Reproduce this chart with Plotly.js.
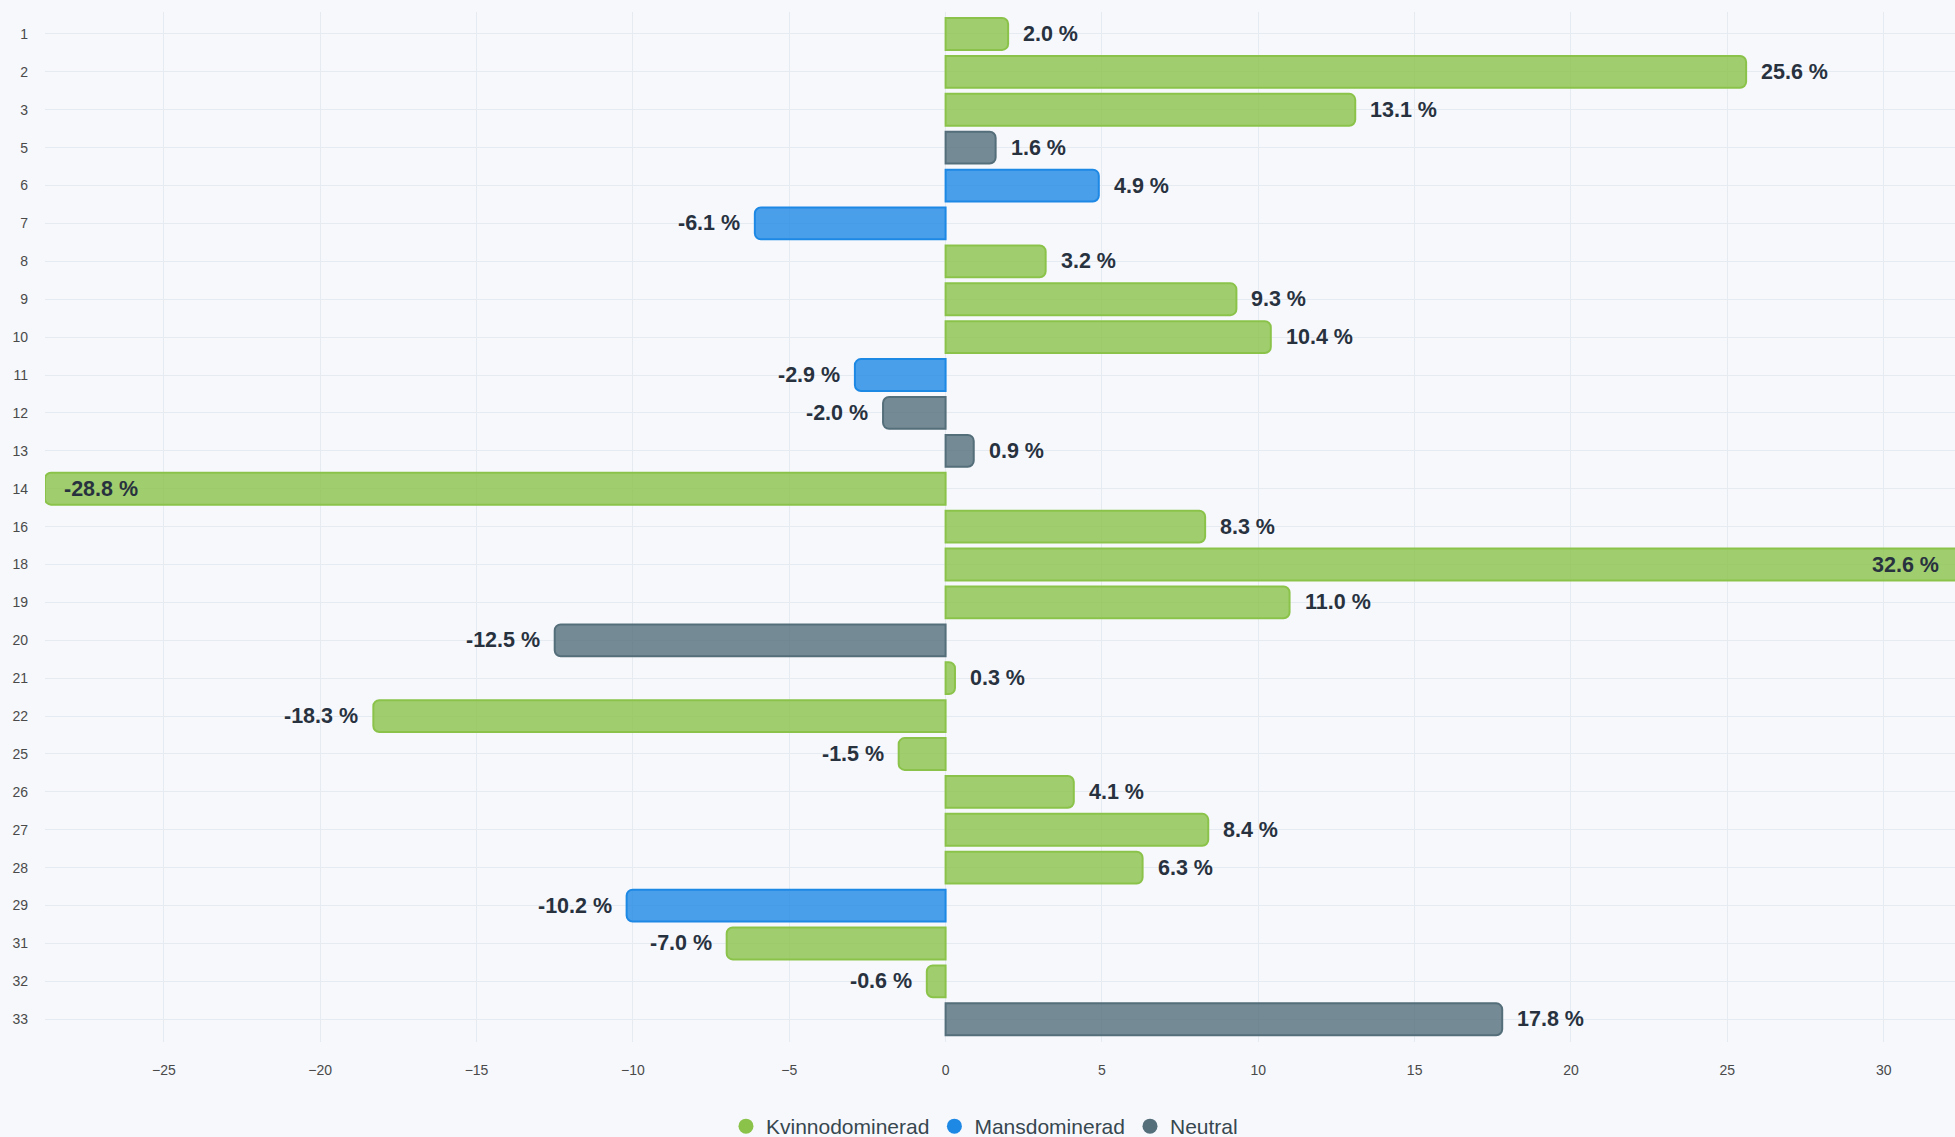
<!DOCTYPE html>
<html>
<head>
<meta charset="utf-8">
<script src="https://cdn.plot.ly/plotly-3.0.1.min.js"></script>
<style>
  html, body { margin: 0; padding: 0; overflow: hidden; background: #f6f8fc; }
  #chart { width: 1965px; height: 1147px; }
</style>
</head>
<body>
<div id="chart"></div>
<script>
// ---- data ----
const categories = ['1','2','3','5','6','7','8','9','10','11','12','13','14','16','18','19','20','21','22','25','26','27','28','29','31','32','33'];
const values = [2.0, 25.6, 13.1, 1.6, 4.9, -6.1, 3.2, 9.3, 10.4, -2.9, -2.0, 0.9, -28.8, 8.3, 32.6, 11.0, -12.5, 0.3, -18.3, -1.5, 4.1, 8.4, 6.3, -10.2, -7.0, -0.6, 17.8];
const groups = ['Kvinnodominerad','Kvinnodominerad','Kvinnodominerad','Neutral','Mansdominerad','Mansdominerad','Kvinnodominerad','Kvinnodominerad','Kvinnodominerad','Mansdominerad','Neutral','Neutral','Kvinnodominerad','Kvinnodominerad','Kvinnodominerad','Kvinnodominerad','Neutral','Kvinnodominerad','Kvinnodominerad','Kvinnodominerad','Kvinnodominerad','Kvinnodominerad','Kvinnodominerad','Mansdominerad','Kvinnodominerad','Kvinnodominerad','Neutral'];
const seriesNames = ['Kvinnodominerad', 'Mansdominerad', 'Neutral'];

// ---- styles ----
const seriesStyle = {
  'Kvinnodominerad': { line: '#8bc34a', fill: 'rgba(139,195,74,0.8)' },
  'Mansdominerad':   { line: '#1e88e5', fill: 'rgba(30,136,229,0.8)' },
  'Neutral':         { line: '#546e7a', fill: 'rgba(84,110,122,0.8)' }
};
const FONT = '"Liberation Sans", Arial, Helvetica, sans-serif';
const xMin = Math.min(...values), xMax = Math.max(...values);

const traces = [];
seriesNames.forEach(name => {
  const idx = values.map((v, i) => i).filter(i => groups[i] === name);
  traces.push({
    type: 'bar',
    orientation: 'h',
    name: name,
    legendgroup: name,
    showlegend: false,
    x: idx.map(i => values[i]),
    y: idx.map(i => categories[i]),
    width: 0.84,
    marker: {
      color: seriesStyle[name].fill,
      line: { color: seriesStyle[name].line, width: 2 },
      cornerradius: 6
    },
    hoverinfo: 'x+y'
  });
});
// legend entries (circle markers)
seriesNames.forEach(name => {
  traces.push({
    type: 'scatter',
    mode: 'markers',
    name: name,
    legendgroup: name,
    x: [null], y: [null],
    marker: { color: seriesStyle[name].line, size: 15, symbol: 'circle' },
    hoverinfo: 'skip'
  });
});

const annotations = values.map((v, i) => {
  const inside = (v === xMin || v === xMax);
  let anchor, shift;
  if (v >= 0) {
    anchor = inside ? 'right' : 'left';
    shift = inside ? -24 : 13;
  } else {
    anchor = inside ? 'left' : 'right';
    shift = inside ? 17 : -13;
  }
  return {
    // category axis: position by category index
    x: v, y: categories.indexOf(categories[i]), xref: 'x', yref: 'y',
    text: v.toFixed(1) + ' %',
    showarrow: false,
    xanchor: anchor, yanchor: 'middle',
    xshift: shift,
    font: { family: FONT, size: 21.5, color: '#28323f', weight: 'bold' }
  };
});

const layout = {
  width: 1965,
  height: 1147,
  paper_bgcolor: '#f6f8fc',
  plot_bgcolor: '#f6f8fc',
  margin: { l: 45, r: 0, t: 12, b: 105 },
  barmode: 'relative',
  showlegend: true,
  font: { family: FONT },
  xaxis: {
    range: [xMin, xMax],
    dtick: 5,
    tick0: 0,
    showgrid: true,
    gridcolor: '#e6ebf1',
    gridwidth: 1,
    zeroline: false,
    showline: false,
    ticks: '',
    ticklabelstandoff: 18,
    tickfont: { family: FONT, size: 14, color: '#4a4a4a' },
    fixedrange: true
  },
  yaxis: {
    type: 'category',
    categoryorder: 'array',
    categoryarray: categories,
    range: [categories.length - 0.4, -0.58],
    showgrid: true,
    gridcolor: '#e6ebf1',
    gridwidth: 1,
    zeroline: false,
    showline: false,
    ticks: '',
    ticklabelstandoff: 16,
    tickfont: { family: FONT, size: 14, color: '#4a4a4a' },
    fixedrange: true
  },
  legend: {
    orientation: 'h',
    xref: 'container', yref: 'container',
    x: 0.501, xanchor: 'center',
    y: 0, yanchor: 'bottom',
    font: { family: FONT, size: 21, color: '#37474f' },
    bgcolor: 'rgba(0,0,0,0)',
    itemclick: false, itemdoubleclick: false
  },
  annotations: annotations
};

Plotly.newPlot('chart', traces, layout, { displayModeBar: false, responsive: false });
</script>
</body>
</html>
